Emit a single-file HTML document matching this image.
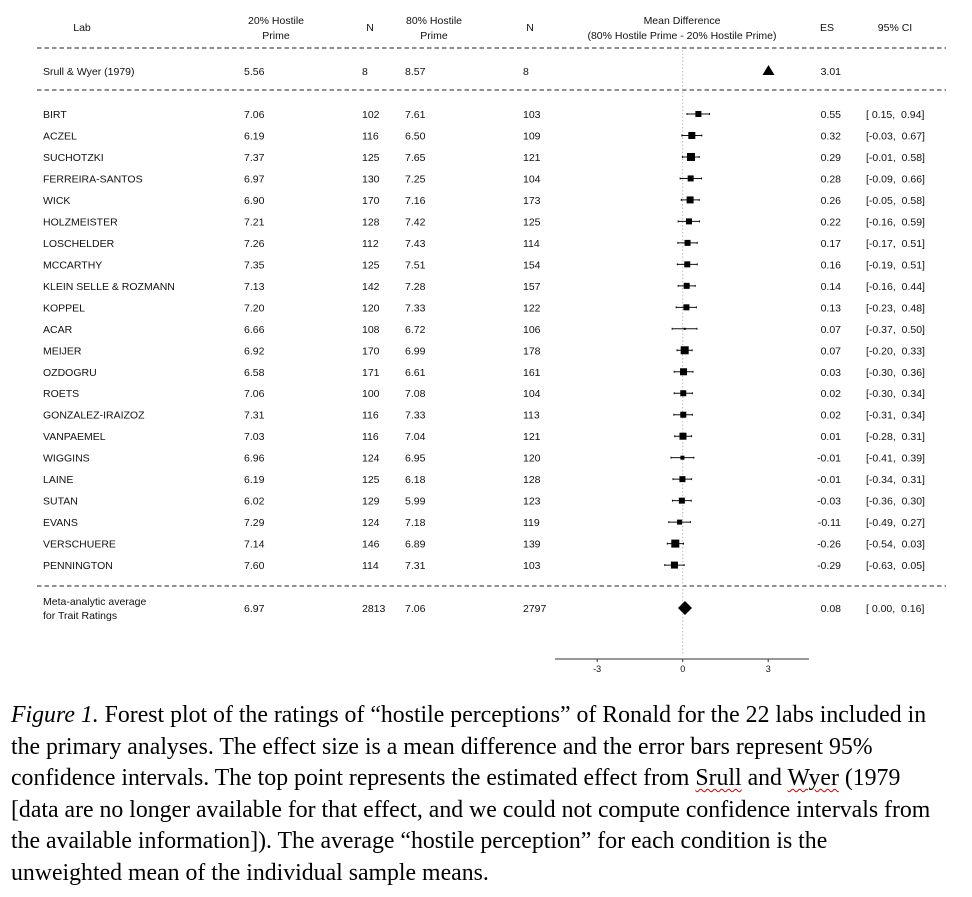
<!DOCTYPE html>
<html><head><meta charset="utf-8"><style>
html,body{margin:0;padding:0;background:#fff;width:972px;height:897px;overflow:hidden}
svg text{font-family:"Liberation Sans",Arial,sans-serif;font-size:10.5px;fill:#111}
.cap{position:absolute;left:11px;top:700px;width:960px;font-family:"Liberation Serif","Times New Roman",serif;font-size:23.8px;line-height:31.6px;color:#000;white-space:nowrap}
.sq{text-decoration:underline wavy #c00;text-decoration-thickness:1px;text-underline-offset:3px}
</style></head><body>
<svg id="plot" width="972" height="690" style="position:absolute;left:0;top:0" xmlns="http://www.w3.org/2000/svg">
<g>
<text x="82" y="31" text-anchor="middle">Lab</text>
<text x="276" y="24" text-anchor="middle">20% Hostile</text><text x="276" y="39" text-anchor="middle">Prime</text>
<text x="370" y="31" text-anchor="middle">N</text>
<text x="434" y="24" text-anchor="middle">80% Hostile</text><text x="434" y="39" text-anchor="middle">Prime</text>
<text x="530" y="31" text-anchor="middle">N</text>
<text x="682" y="24" text-anchor="middle">Mean Difference</text><text x="682" y="39" text-anchor="middle">(80% Hostile Prime - 20% Hostile Prime)</text>
<text x="827" y="31" text-anchor="middle">ES</text>
<text x="895" y="31" text-anchor="middle">95% CI</text>
</g>
<g id="lines"></g>
<g id="rows"></g>
<g id="axis"></g>
</svg>
<div class="cap"><i>Figure 1.</i> Forest plot of the ratings of “hostile perceptions” of Ronald for the 22 labs included in<br>the primary analyses. The effect size is a mean difference and the error bars represent 95%<br>confidence intervals. The top point represents the estimated effect from <span class="sq">Srull</span> and <span class="sq">Wyer</span> (1979<br>[data are no longer available for that effect, and we could not compute confidence intervals from<br>the available information]). The average “hostile perception” for each condition is the<br>unweighted mean of the individual sample means.</div>
<script>
const labs=["BIRT","ACZEL","SUCHOTZKI","FERREIRA-SANTOS","WICK","HOLZMEISTER","LOSCHELDER","MCCARTHY","KLEIN SELLE & ROZMANN","KOPPEL","ACAR","MEIJER","OZDOGRU","ROETS","GONZALEZ-IRAIZOZ","VANPAEMEL","WIGGINS","LAINE","SUTAN","EVANS","VERSCHUERE","PENNINGTON"];
const m20=["7.06","6.19","7.37","6.97","6.90","7.21","7.26","7.35","7.13","7.20","6.66","6.92","6.58","7.06","7.31","7.03","6.96","6.19","6.02","7.29","7.14","7.60"];
const n20=[102,116,125,130,170,128,112,125,142,120,108,170,171,100,116,116,124,125,129,124,146,114];
const m80=["7.61","6.50","7.65","7.25","7.16","7.42","7.43","7.51","7.28","7.33","6.72","6.99","6.61","7.08","7.33","7.04","6.95","6.18","5.99","7.18","6.89","7.31"];
const n80=[103,109,121,104,173,125,114,154,157,122,106,178,161,104,113,121,120,128,123,119,139,103];
const es=[0.55,0.32,0.29,0.28,0.26,0.22,0.17,0.16,0.14,0.13,0.07,0.07,0.03,0.02,0.02,0.01,-0.01,-0.01,-0.03,-0.11,-0.26,-0.29];
const lo=[0.15,-0.03,-0.01,-0.09,-0.05,-0.16,-0.17,-0.19,-0.16,-0.23,-0.37,-0.20,-0.30,-0.30,-0.31,-0.28,-0.41,-0.34,-0.36,-0.49,-0.54,-0.63];
const hi=[0.94,0.67,0.58,0.66,0.58,0.59,0.51,0.51,0.44,0.48,0.50,0.33,0.36,0.34,0.34,0.31,0.39,0.31,0.30,0.27,0.03,0.05];
const wt=[6,7,8,6,7,6,6,6,6,6,2,8,7,6,6,7,4,6,6,5,8,7];
const orig={lab:"Srull & Wyer (1979)",m20:"5.56",n20:8,m80:"8.57",n80:8,es:3.01};
const meta={m20:"6.97",n20:2813,m80:"7.06",n80:2797,es:0.08,lo:0.00,hi:0.16};
const ticks=[-3,0,3];

const NS="http://www.w3.org/2000/svg";
const X=v=>682.7+v*28.5;
const rowY=i=>114+i*21.48;
function el(p,tag,a,txt){const e=document.createElementNS(NS,tag);for(const k in a)e.setAttribute(k,a[k]);if(txt!==undefined)e.textContent=txt;p.appendChild(e);return e;}
const fmt=v=>{let s=v.toFixed(2);if(s==="-0.00")s="0.00";return v>=0?" "+s:s;};
const rows=document.getElementById('rows'),lines=document.getElementById('lines'),axis=document.getElementById('axis');
[48,90,586].forEach(y=>{const l=el(lines,'line',{x1:37,x2:946,y1:y,y2:y,stroke:'#222','stroke-width':1,'stroke-dasharray':'4.5,3'});

});
const z=el(lines,'line',{x1:X(0),x2:X(0),y1:50,y2:655,stroke:'#bbb','stroke-width':1,'stroke-dasharray':'1.5,2'});


function cols(g,y,lab,a,b,c,d){el(g,'text',{x:43,y:y},lab);el(g,'text',{x:244,y:y},a);el(g,'text',{x:362,y:y},String(b));el(g,'text',{x:405,y:y},c);el(g,'text',{x:523,y:y},String(d));}
let g=el(rows,'g',{});


cols(g,75,orig.lab,orig.m20,orig.n20,orig.m80,orig.n80);
el(g,'text',{x:841,y:75,'text-anchor':'end'},orig.es.toFixed(2));
const tx=X(orig.es);
const tri=el(g,'polygon',{points:`${tx-6},75 ${tx+6},75 ${tx},65`,fill:'#000'});


labs.forEach((lab,i)=>{
 const y=rowY(i);
 const r=el(rows,'g',{});
 
 
 cols(r,y+4,lab,m20[i],n20[i],m80[i],n80[i]);
 el(r,'text',{x:841,y:y+4,'text-anchor':'end'},es[i].toFixed(2));
 el(r,'text',{x:866,y:y+4,'xml:space':'preserve',style:'white-space:pre'},`[${fmt(lo[i])}, ${fmt(hi[i])}]`);
 const ci=el(r,'line',{x1:X(lo[i]),x2:X(hi[i]),y1:y,y2:y,stroke:'#111','stroke-width':1});
 
 
 [lo[i],hi[i]].forEach(v=>el(r,'line',{x1:X(v),x2:X(v),y1:y-1,y2:y+1,stroke:'#111','stroke-width':1}));
 const s=wt[i];
 const m=el(r,'rect',{x:X(es[i])-s/2,y:y-s/2,width:s,height:s,fill:'#000'});
 
 
});
g=el(rows,'g',{});


el(g,'text',{x:43,y:605},'Meta-analytic average');el(g,'text',{x:43,y:619},'for Trait Ratings');
el(g,'text',{x:244,y:612},meta.m20);el(g,'text',{x:362,y:612},String(meta.n20));el(g,'text',{x:405,y:612},meta.m80);el(g,'text',{x:523,y:612},String(meta.n80));
el(g,'text',{x:841,y:612,'text-anchor':'end'},meta.es.toFixed(2));
el(g,'text',{x:866,y:612,'xml:space':'preserve',style:'white-space:pre'},`[${fmt(meta.lo)}, ${fmt(meta.hi)}]`);
const dx=X(meta.es),dy=608;
const dia=el(g,'polygon',{points:`${dx-7},${dy} ${dx},${dy-7} ${dx+7},${dy} ${dx},${dy+7}`,fill:'#000'});


el(axis,'line',{x1:555,x2:809,y1:659,y2:659,stroke:'#333','stroke-width':1});
ticks.forEach(t=>{el(axis,'line',{x1:X(t),x2:X(t),y1:659,y2:662,stroke:'#333'});
 const tl=el(axis,'text',{x:X(t),y:672,'text-anchor':'middle',style:'font-size:9px'},String(t));
 
 });
</script>
</body></html>
